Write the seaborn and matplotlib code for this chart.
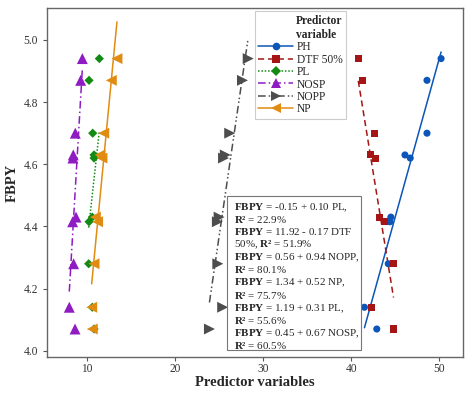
import numpy as np
import pandas as pd
import matplotlib
matplotlib.use("Agg")
import matplotlib.pyplot as plt
from matplotlib.lines import Line2D
from matplotlib.patches import Rectangle
import seaborn as sns

# ---- data ----
fbpy = [4.94, 4.87, 4.70, 4.63, 4.62, 4.43, 4.415, 4.28, 4.14, 4.07]
ph   = [50.2, 48.6, 48.6, 46.1, 46.7, 44.5, 44.4, 44.2, 41.5, 42.9]
dtf  = [40.8, 41.3, 42.6, 42.2, 42.8, 43.2, 43.8, 44.8, 42.3, 44.8]
pl   = [11.4, 10.23, 10.65, 10.8, 10.8, 10.6, 10.23, 10.19, 10.6, 10.8]
nosp = [9.47, 9.28, 8.67, 8.44, 8.40, 8.75, 8.37, 8.48, 7.99, 8.64]
nopp = [28.3, 27.65, 26.2, 25.7, 25.5, 25.0, 24.8, 24.85, 25.4, 23.9]
np_  = [13.4, 12.76, 11.9, 11.48, 11.7, 10.95, 11.2, 10.8, 10.53, 10.6]

series_names = ["PH", "DTF 50%", "PL", "NOSP", "NOPP", "NP"]
series_x = [ph, dtf, pl, nosp, nopp, np_]
colors = ["#0b56b8", "#a51515", "#138a13", "#8e1cc2", "#4d4d4d", "#e08c12"]
markers = ["o", "s", "D", "^", ">", "<"]
msizes = [26, 26, 22, 62, 62, 62]
lstyles = ["-", (0, (4, 2.5)), (0, (1, 1.2)), (0, (5, 2, 1, 2)), (0, (5, 2, 1, 1.5, 1, 2)), "-"]

eq_lines = [
    r"$\mathbf{FBPY}$ = -0.15 + 0.10 PL,",
    r"$\mathbf{R²}$ = 22.9%",
    r"$\mathbf{FBPY}$ = 11.92 - 0.17 DTF",
    r"50%, $\mathbf{R²}$ = 51.9%",
    r"$\mathbf{FBPY}$ = 0.56 + 0.94 NOPP,",
    r"$\mathbf{R²}$ = 80.1%",
    r"$\mathbf{FBPY}$ = 1.34 + 0.52 NP,",
    r"$\mathbf{R²}$ = 75.7%",
    r"$\mathbf{FBPY}$ = 1.19 + 0.31 PL,",
    r"$\mathbf{R²}$ = 55.6%",
    r"$\mathbf{FBPY}$ = 0.45 + 0.67 NOSP,",
    r"$\mathbf{R²}$ = 60.5%",
]

sns.set_style("ticks")
plt.rcParams["font.family"] = ["Liberation Serif", "DejaVu Serif"]
plt.rcParams["mathtext.fontset"] = "custom"
plt.rcParams["mathtext.rm"] = "Liberation Serif"
plt.rcParams["mathtext.it"] = "Liberation Serif:italic"
plt.rcParams["mathtext.bf"] = "Liberation Serif:bold"

fig = plt.figure(figsize=(4.74, 3.96), dpi=100)
ax = fig.add_axes([0.099, 0.0985, 0.878, 0.8815])

for name, xs, c, m, s, ls in zip(series_names, series_x, colors, markers, msizes, lstyles):
    df = pd.DataFrame({"x": xs, "y": fbpy})
    sns.regplot(data=df, x="x", y="y", ax=ax, ci=None, scatter=False,
                truncate=True, line_kws=dict(color=c, lw=1.1, ls=ls, zorder=2))
    sns.scatterplot(data=df, x="x", y="y", ax=ax, color=c, marker=m, s=s,
                    edgecolor="none", linewidth=0, zorder=3)

ax.set_xlim(5.45, 52.7)
ax.set_ylim(3.98, 5.103)
ax.set_xticks([10, 20, 30, 40, 50])
ax.set_yticks([4.0, 4.2, 4.4, 4.6, 4.8, 5.0])
ax.set_yticklabels(["4.0", "4.2", "4.4", "4.6", "4.8", "5.0"])
ax.tick_params(axis="both", labelsize=8.3, colors="#555555", labelcolor="#333333",
               length=3, width=0.8, direction="out")
ax.tick_params(axis="x", pad=1.2)
for sp in ax.spines.values():
    sp.set_color("#666666")
    sp.set_linewidth(1.0)
ax.set_xlabel("Predictor variables", fontsize=10.5, fontweight="bold", labelpad=1)
ax.set_ylabel("FBPY", fontsize=10.5, fontweight="bold", labelpad=3)

handles = [Line2D([0], [0], color=c, ls=ls, lw=1.1, marker=m,
                  markersize=(5.5 if m in "osD" else 7.5), markeredgewidth=0)
           for c, ls, m in zip(colors, lstyles, markers)]
leg = ax.legend(handles, series_names, loc="upper left", bbox_to_anchor=(0.5, 0.99),
                borderaxespad=0, fontsize=8.3, title="Predictor\nvariable",
                title_fontproperties={"weight": "bold", "size": 8.3},
                alignment="right", frameon=True, fancybox=False, framealpha=1,
                edgecolor="#cccccc", handlelength=3.0, handletextpad=0.35,
                labelspacing=0.04, borderpad=0.3)
leg.get_title().set_multialignment("left")
leg.get_frame().set_linewidth(0.8)

# equation box
box_x0, box_x1 = 0.4327, 0.7548
box_y0, box_y1 = 0.020, 0.4613
ax.add_patch(Rectangle((box_x0, box_y0), box_x1 - box_x0, box_y1 - box_y0,
                       transform=ax.transAxes, facecolor="white",
                       edgecolor="#777777", lw=0.8, zorder=4))
line_h = 12.65 / 349.0
top_y = (357 - 205.5) / 349.0
for i, t in enumerate(eq_lines):
    ax.text(0.450, top_y - i * line_h, t, transform=ax.transAxes, fontsize=7.9,
            ha="left", va="center_baseline", zorder=5)

fig.savefig("out.png", dpi=100)
